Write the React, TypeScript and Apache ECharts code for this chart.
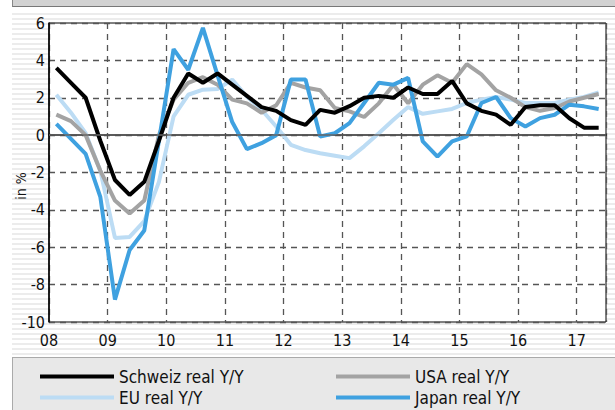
import React, { useEffect, useRef } from "react";
import * as echarts from "echarts";

const quarters = [
  "08Q1", "08Q2", "08Q3", "08Q4", "09Q1", "09Q2", "09Q3", "09Q4",
  "10Q1", "10Q2", "10Q3", "10Q4", "11Q1", "11Q2", "11Q3", "11Q4",
  "12Q1", "12Q2", "12Q3", "12Q4", "13Q1", "13Q2", "13Q3", "13Q4",
  "14Q1", "14Q2", "14Q3", "14Q4", "15Q1", "15Q2", "15Q3", "15Q4",
  "16Q1", "16Q2", "16Q3", "16Q4", "17Q1", "17Q2",
];

const schweiz = [3.6, 2.8, 2.0, -0.3, -2.4, -3.2, -2.5, -0.3, 2.0, 3.3, 2.8, 3.3, 2.7, 2.1, 1.5, 1.3, 0.8, 0.55, 1.35, 1.2, 1.55, 2.0, 2.1, 2.0, 2.55, 2.2, 2.2, 2.9, 1.7, 1.3, 1.1, 0.55, 1.5, 1.6, 1.6, 0.9, 0.4, 0.4];
const usa = [1.1, 0.75, 0.0, -1.9, -3.5, -4.2, -3.5, 0.0, 1.9, 2.8, 3.1, 2.7, 1.9, 1.7, 1.2, 1.6, 2.8, 2.55, 2.4, 1.45, 1.27, 0.97, 1.7, 2.7, 1.7, 2.7, 3.2, 2.8, 3.8, 3.25, 2.4, 2.0, 1.5, 1.3, 1.45, 1.8, 2.0, 2.2];
const eu = [2.16, 1.2, 0.1, -1.9, -5.5, -5.45, -4.6, -2.5, 1.0, 2.16, 2.43, 2.47, 2.97, 2.07, 1.36, 0.46, -0.52, -0.8, -0.97, -1.1, -1.23, -0.6, 0.1, 0.82, 1.5, 1.14, 1.27, 1.4, 1.72, 1.9, 2.04, 1.9, 1.72, 1.72, 1.72, 1.9, 2.04, 2.29];
const japan = [0.6, -0.2, -1.0, -3.3, -8.8, -6.15, -5.1, -0.3, 4.6, 3.5, 5.74, 3.2, 0.7, -0.75, -0.43, 0.0, 2.97, 2.97, -0.07, 0.1, 0.64, 1.72, 2.8, 2.7, 3.06, -0.34, -1.15, -0.34, -0.07, 1.72, 2.04, 0.91, 0.46, 0.91, 1.09, 1.63, 1.54, 1.4];

const seriesNames = ["Schweiz real Y/Y", "USA real Y/Y", "EU real Y/Y", "Japan real Y/Y"];
const yTicks = { min: -10, max: 6, step: 2 };
const xRange = { min: 2008, max: 2017.5, step: 1 };

const FONT = "'DejaVu Sans Condensed', 'DejaVu Sans', sans-serif";

function quarterToYear(q: string): number {
  const y = 2000 + parseInt(q.slice(0, 2), 10);
  const n = parseInt(q.slice(3), 10);
  return y + (n - 0.5) / 4;
}

function pairs(values: number[]) {
  return values.map((v, i) => [quarterToYear(quarters[i]), v]);
}

export default function App() {
  const ref = useRef<HTMLDivElement>(null);

  useEffect(() => {
    if (!ref.current) return;
    const chart = echarts.init(ref.current, undefined, { renderer: "svg" });
    const dash = { type: [6, 5] as any, color: "#555", width: 1.3 };
    const legendCommon = {
      orient: "vertical" as const,
      top: 368,
      height: 80,
      padding: 0,
      icon: "rect",
      itemWidth: 74,
      itemHeight: 4,
      itemGap: 4,
      textStyle: { fontSize: 17, color: "#111", fontFamily: FONT, lineHeight: 16 },
    };
    chart.setOption({
      animation: false,
      textStyle: { fontFamily: FONT },
      grid: {
        left: 49,
        right: 9,
        top: 23,
        bottom: 88,
        show: true,
        backgroundColor: "#fff",
        borderColor: "#000",
        borderWidth: 1,
      },
      xAxis: {
        type: "value",
        min: xRange.min,
        max: xRange.max,
        interval: xRange.step,
        axisLine: { show: true, lineStyle: { color: "#000", width: 1.5 } },
        axisTick: { show: false },
        axisLabel: {
          fontSize: 16,
          color: "#111",
          margin: 10,
          formatter: (v: number) => (Number.isInteger(v) ? String(v).slice(2) : ""),
        },
        splitLine: { show: true, lineStyle: dash },
      },
      yAxis: {
        type: "value",
        min: yTicks.min,
        max: yTicks.max,
        interval: yTicks.step,
        axisLine: { show: true, lineStyle: { color: "#000", width: 1.5 } },
        axisTick: { show: false },
        axisLabel: { fontSize: 16, color: "#111", margin: 4 },
        splitLine: { show: true, lineStyle: dash },
      },
      legend: [
        { ...legendCommon, left: 40, data: [seriesNames[0], seriesNames[2]] },
        { ...legendCommon, left: 336, data: [seriesNames[1], seriesNames[3]] },
      ],
      graphic: [
        {
          type: "text",
          x: 21,
          y: 186,
          rotation: Math.PI / 2,
          style: {
            text: "in %",
            fontSize: 14,
            fontFamily: FONT,
            fill: "#111",
            align: "center",
            verticalAlign: "middle",
          },
        },
      ],
      series: [
        {
          name: seriesNames[2],
          type: "line",
          data: pairs(eu),
          symbol: "none",
          color: "#bcdcf4",
          lineStyle: { width: 4, color: "#bcdcf4" },
          markLine: {
            silent: true,
            symbol: "none",
            label: { show: false },
            lineStyle: { type: "solid", color: "#666", width: 1.5 },
            data: [{ yAxis: 0 }],
          },
        },
        {
          name: seriesNames[1],
          type: "line",
          data: pairs(usa),
          symbol: "none",
          color: "#a3a3a3",
          lineStyle: { width: 4, color: "#a3a3a3" },
        },
        {
          name: seriesNames[3],
          type: "line",
          data: pairs(japan),
          symbol: "none",
          color: "#3fa1e0",
          lineStyle: { width: 4, color: "#3fa1e0" },
        },
        {
          name: seriesNames[0],
          type: "line",
          data: pairs(schweiz),
          symbol: "none",
          color: "#000",
          lineStyle: { width: 4, color: "#000" },
        },
      ],
    });
    return () => chart.dispose();
  }, []);

  return (
    <div style={{ position: "absolute", left: 0, top: 0, width: 615, height: 410, background: "#fff", overflow: "hidden" }}>
      <div style={{ position: "absolute", left: 12, top: 0, width: 603, height: 6, background: "#d2d2d2", borderLeft: "1px solid #888", borderBottom: "1px solid #777" }} />
      <div style={{ position: "absolute", left: 12, top: 13, width: 603, height: 344, background: "repeating-linear-gradient(to bottom, #ececec 0px, #ececec 2px, #ffffff 2px, #ffffff 5px)" }} />
      <div style={{ position: "absolute", left: 12, top: 357, width: 603, height: 53, background: "#e8e8e8", borderTop: "1px solid #aaa", borderLeft: "1px solid #aaa", boxSizing: "border-box" }} />
      <div ref={ref} style={{ position: "absolute", left: 0, top: 0, width: 615, height: 410 }} />
    </div>
  );
}
